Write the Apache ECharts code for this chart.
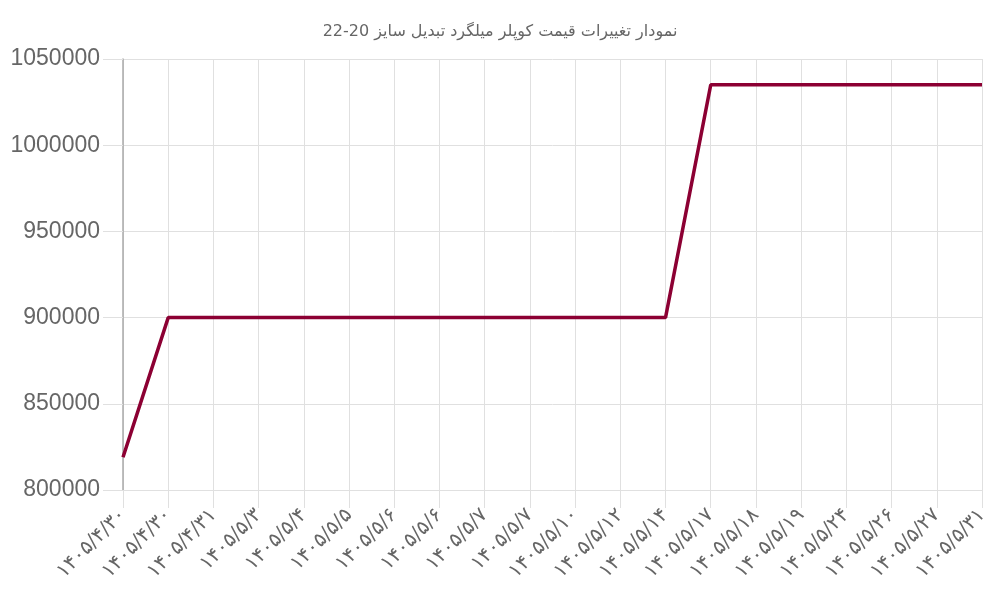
<!DOCTYPE html>
<html>
<head>
<meta charset="utf-8">
<script src="https://cdn.jsdelivr.net/npm/echarts@6/dist/echarts.min.js"></script>
<style>html,body{margin:0;padding:0;background:#fff}#c{width:1000px;height:600px}</style>
</head>
<body>
<div id="c"></div>
<script>
const titleText = 'نمودار تغییرات قیمت کوپلر میلگرد تبدیل سایز 20-22';
const categories = ['۱۴۰۵/۴/۳۰','۱۴۰۵/۴/۳۰','۱۴۰۵/۴/۳۱','۱۴۰۵/۵/۳','۱۴۰۵/۵/۴','۱۴۰۵/۵/۵','۱۴۰۵/۵/۶','۱۴۰۵/۵/۶','۱۴۰۵/۵/۷','۱۴۰۵/۵/۷','۱۴۰۵/۵/۱۰','۱۴۰۵/۵/۱۲','۱۴۰۵/۵/۱۴','۱۴۰۵/۵/۱۷','۱۴۰۵/۵/۱۸','۱۴۰۵/۵/۱۹','۱۴۰۵/۵/۲۴','۱۴۰۵/۵/۲۶','۱۴۰۵/۵/۲۷','۱۴۰۵/۵/۳۱'];
const prices = [819000,900000,900000,900000,900000,900000,900000,900000,900000,900000,900000,900000,900000,1035000,1035000,1035000,1035000,1035000,1035000,1035000];
const yMin = 800000, yMax = 1050000, yStep = 50000;

const chart = echarts.init(document.getElementById('c'));
chart.setOption({
  animation: false,
  title: {
    text: titleText, left: 'center', top: 19,
    textStyle: {fontFamily: 'DejaVu Sans', fontSize: 16, fontWeight: 'normal', color: '#666'}
  },
  grid: {left: 123, right: 18, top: 59, bottom: 110, containLabel: false},
  xAxis: {
    type: 'category', data: categories, boundaryGap: false,
    axisLine: {show: true, lineStyle: {color: '#e0e0e0', width: 1}},
    axisTick: {show: true, length: 18, lineStyle: {color: '#e0e0e0'}},
    splitLine: {show: true, lineStyle: {color: '#e0e0e0', width: 1}},
    axisLabel: {rotate: 45, margin: 22, interval: 0, fontFamily: 'DejaVu Sans', fontSize: 20, color: '#666'}
  },
  yAxis: {
    type: 'value', min: yMin, max: yMax, interval: yStep,
    axisLine: {show: true, lineStyle: {color: '#aaa', width: 1.5}},
    axisTick: {show: true, length: 20, lineStyle: {color: '#e0e0e0'}},
    splitLine: {show: true, lineStyle: {color: '#e0e0e0', width: 1}},
    axisLabel: {margin: 23, fontFamily: 'Liberation Sans', fontSize: 23, color: '#666', formatter: v => String(v)}
  },
  series: [{
    type: 'line', data: prices, showSymbol: false, symbol: 'none',
    lineStyle: {color: '#8c0033', width: 3.5}
  }]
});
</script>
</body>
</html>
